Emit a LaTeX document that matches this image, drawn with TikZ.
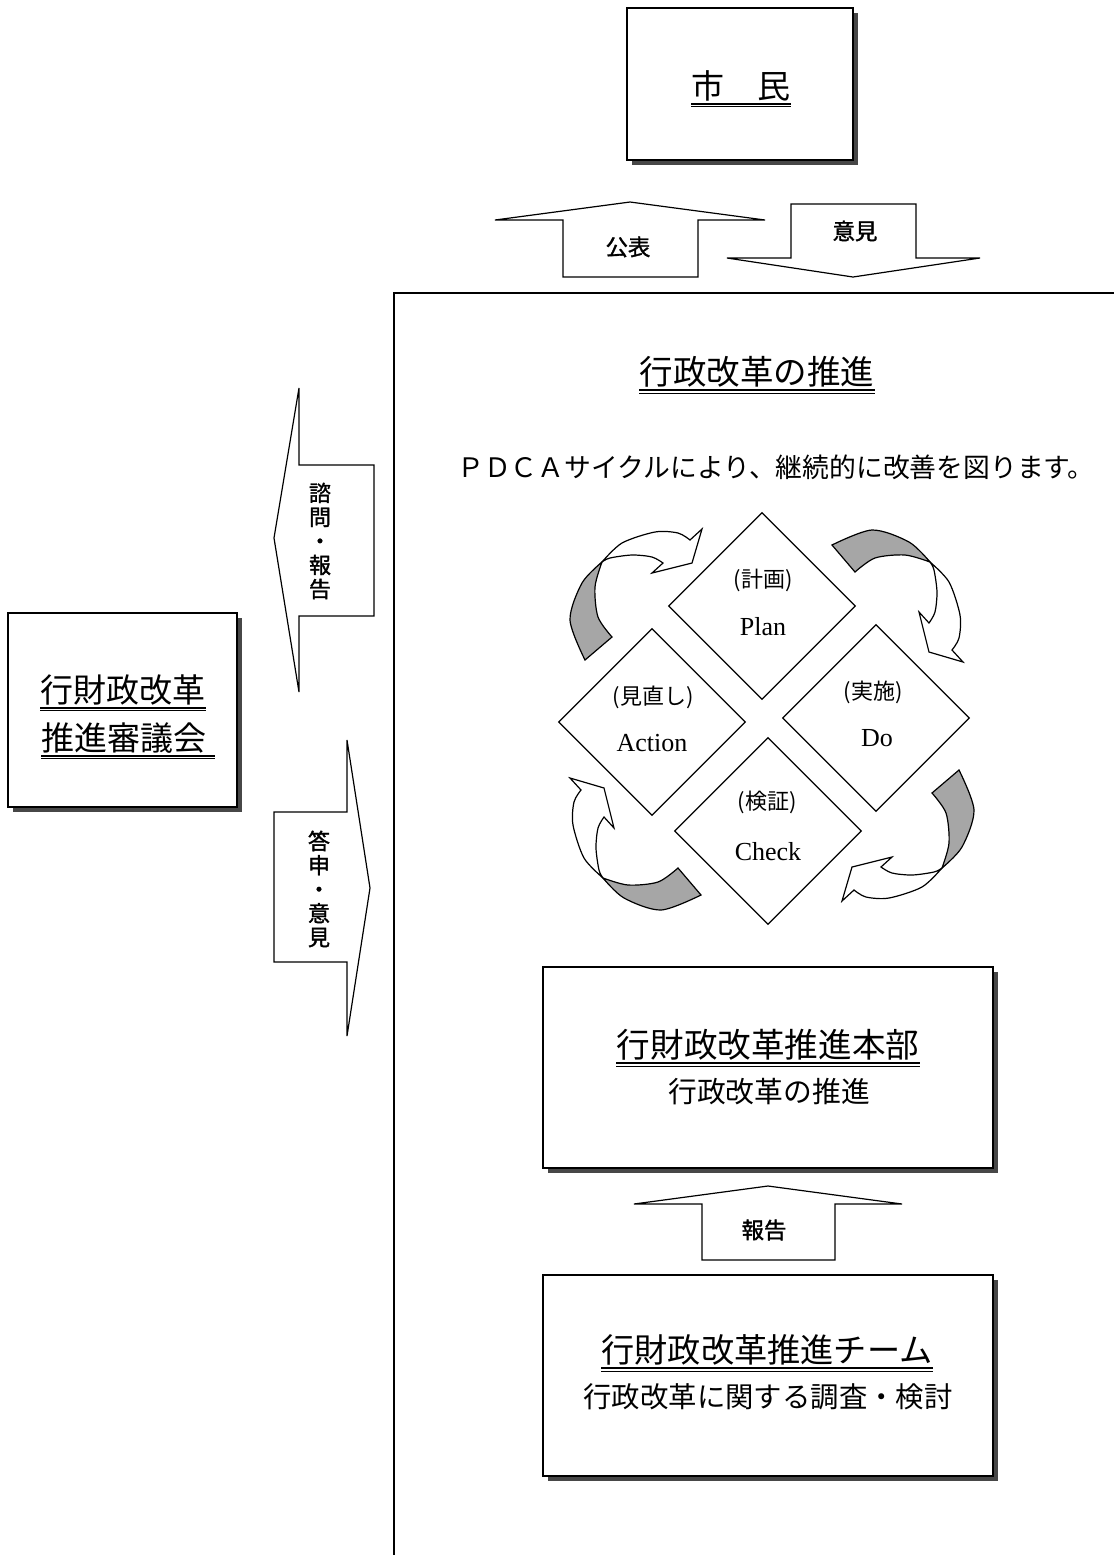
\documentclass[tikz,border=0pt]{standalone}
\usepackage{fontspec}
\setmainfont{Liberation Serif}
\newfontfamily\jp{Noto Sans CJK JP}
\newfontfamily\jpb[FakeBold=1.5]{Noto Sans CJK JP}
\usetikzlibrary{shapes.geometric,fit}
\newcommand\fs[1]{\fontsize{#1}{#1}\selectfont}
\newcommand\dul[2][0pt]{%
  \draw[line width=0.85pt] ([yshift=-2.6pt]#2.base west) -- ([yshift=-2.6pt,xshift=#1]#2.base east);
  \draw[line width=0.5pt] ([yshift=-4.2pt]#2.base west) -- ([yshift=-4.2pt,xshift=#1]#2.base east);}
\begin{document}
\begin{tikzpicture}[x=0.5pt,y=-0.5pt,line join=miter,
  box/.style={draw,line width=0.7pt,fill=white,inner sep=0pt},
  shd/.style={fill=black!72},
  blk/.style={draw,line width=0.6pt,fill=white},
  dia/.style={draw,shape=diamond,line width=0.65pt,minimum width=93.5pt,minimum height=93.5pt,inner sep=0pt},
  crs/.style={draw,line width=0.6pt,fill=black!35},
  wht/.style={draw,line width=0.6pt,fill=white},
  txt/.style={inner sep=0pt},
  lbl/.style={inner sep=0pt,font=\jpb\fs{11.2}},
  vlbl/.style={inner sep=0pt,align=center,font=\jpb\fontsize{11}{12}\selectfont},
  jsm/.style={inner sep=0pt,font=\jp\fs{11}},
  en/.style={inner sep=0pt,font=\fs{13}}]
\useasboundingbox (0,0) rectangle (1114,1555);
\fill[white] (0,0) rectangle (1114,1555);

% frame of the right-hand area
\draw[line width=0.7pt] (1114,293) -- (394,293) -- (394,1555);

% citizens box
\fill[shd] (632,13) rectangle (858,165);
\node[box,fit={(627,8)(853,160)}] (shimin) {};
\node[txt,font=\jp\fs{16.5}] (tshimin) at (741,86) {市　民};
\dul{tshimin}

% publication / opinion arrows
\draw[blk] (563,277) -- (563,220) -- (495,220) -- (630,202) -- (765,220) -- (698,220) -- (698,277) -- cycle;
\node[lbl] (koho) at (628,247) {公表};
\draw[blk] (791,204) -- (916,204) -- (916,258) -- (980,258) -- (853,277) -- (727,258) -- (791,258) -- cycle;
\node[lbl] (iken) at (855,231) {意見};

% council box
\fill[shd] (13,618) rectangle (242,812);
\node[box,fit={(8,613)(237,807)}] (shingi) {};
\node[txt,font=\jp\fs{16.5}] (tshingi1) at (123,690) {行財政改革};
\node[txt,font=\jp\fs{16.5}] (tshingi2) at (124,738) {推進審議会};
\dul{tshingi1}
\dul[4pt]{tshingi2}

% consult / report arrow (left)
\draw[blk] (374,465) -- (299,465) -- (299,388) -- (274,538) -- (299,692) -- (299,616) -- (374,616) -- cycle;
\node[vlbl] (shimon) at (320,541) {諮\\問\\・\\報\\告};
% answer / opinion arrow (right)
\draw[blk] (274,812) -- (347,812) -- (347,740) -- (370,888) -- (347,1036) -- (347,962) -- (274,962) -- cycle;
\node[vlbl] (toshin) at (319,889) {答\\申\\・\\意\\見};

% title and sentence
\node[txt,font=\jp\fs{16.75}] (title) at (757,372) {行政改革の推進};
\dul{title}
\node[txt,font=\jp\fs{13.4}] (pdca) at (776,467) {ＰＤＣＡサイクルにより、継続的に改善を図ります。};

% curved cycle arrows
\foreach \k/\sx/\sy in {0/0/0,1/9/5,2/16/-8,3/-4/-3}{
  \begin{scope}[shift={(764+\sx,719+\sy)},rotate=-90*\k]
    \draw[crs] plot[smooth] coordinates {(-179,-59) (-194,-99) (-182,-136) (-162,-157)}
      -- plot[smooth] coordinates {(-162,-157) (-169,-132) (-166,-102) (-152,-82)} -- cycle;
    \draw[wht] plot[smooth] coordinates {(-162,-157) (-142,-176) (-109,-187) (-86,-186) (-74,-179)}
      -- (-62,-190) -- (-72,-156) -- (-112,-146)
      -- plot[smooth] coordinates {(-101,-156) (-112,-162) (-132,-164) (-154,-161) (-162,-157)} -- cycle;
  \end{scope}
}

% PDCA diamonds
\node[dia] (plan) at (762,606) {};
\node[dia] (do) at (876,718) {};
\node[dia] (check) at (768,831) {};
\node[dia] (action) at (652,722) {};
\node[jsm] (plan1) at (763,580) {(計画)};
\node[en] (plan2) at (763,627) {Plan};
\node[jsm] (do1) at (873,692) {(実施)};
\node[en] (do2) at (877,738) {Do};
\node[jsm] (action1) at (653,697) {(見直し)};
\node[en] (action2) at (652,743) {Action};
\node[jsm] (check1) at (767,802) {(検証)};
\node[en] (check2) at (768,852) {Check};

% headquarters box
\fill[shd] (548,972) rectangle (998,1173);
\node[box,fit={(543,967)(993,1168)}] (honbu) {};
\node[txt,font=\jp\fs{16.8}] (thonbu1) at (768,1045) {行財政改革推進本部};
\dul{thonbu1}
\node[txt,font=\jp\fs{14.4}] (thonbu2) at (769,1092) {行政改革の推進};

% report arrow
\draw[blk] (702,1260) -- (702,1204) -- (634,1204) -- (768,1186) -- (902,1204) -- (835,1204) -- (835,1260) -- cycle;
\node[lbl] (hokoku) at (764,1230) {報告};

% team box
\fill[shd] (548,1280) rectangle (998,1481);
\node[box,fit={(543,1275)(993,1476)}] (team) {};
\node[txt,font=\jp\fs{16.6}] (tteam1) at (767,1350) {行財政改革推進チーム};
\dul{tteam1}
\node[txt,font=\jp\fs{14.2}] (tteam2) at (768,1397) {行政改革に関する調査・検討};
\end{tikzpicture}
\end{document}
